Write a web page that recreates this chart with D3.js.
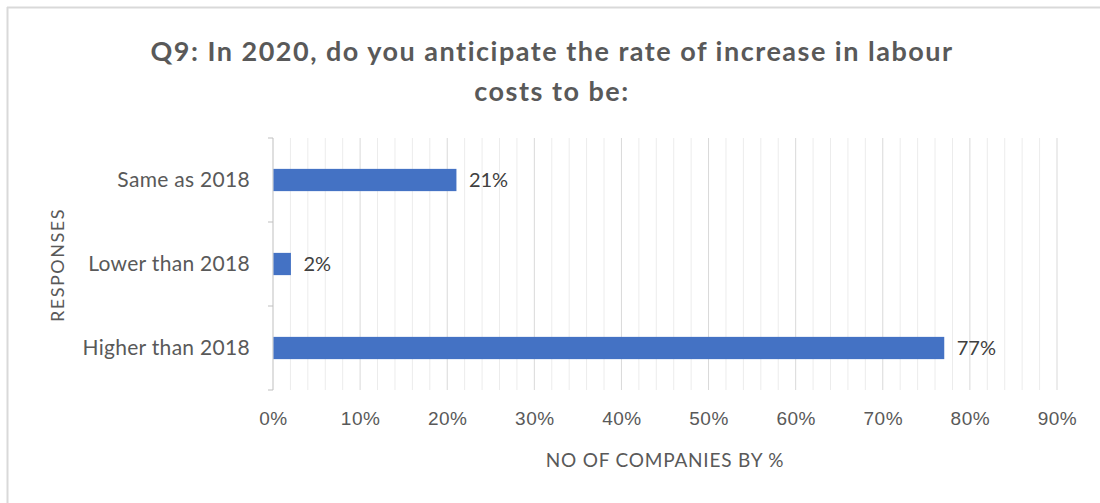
<!DOCTYPE html>
<html>
<head>
<meta charset="utf-8">
<script src="https://cdn.jsdelivr.net/npm/d3@7"></script>
<style>
  html, body { margin: 0; padding: 0; background: #fff; }
  svg { display: block; font-family: Lato, "Open Sans", sans-serif; }
</style>
</head>
<body>
<svg id="chart" width="1100" height="503"></svg>
<script>
// Survey responses (top to bottom as drawn)
const categories = ["Same as 2018", "Lower than 2018", "Higher than 2018"];
const values = [21, 2, 77];
const xTicks = [0, 10, 20, 30, 40, 50, 60, 70, 80, 90];
const titleLines = ["Q9: In 2020, do you anticipate the rate of increase in labour", "costs to be:"];
const xTitle = "NO OF COMPANIES BY %";
const yTitle = "RESPONSES";

const svg = d3.select("#chart");
const W = 1100, H = 503;
const margin = { left: 273, right: 43, top: 138, bottom: 113 };
const textColor = "#595959";

// chart frame (top and left edges)
svg.append("line").attr("x1", 7).attr("x2", W).attr("y1", 7.5).attr("y2", 7.5)
  .attr("stroke", "#d9d9d9").attr("stroke-width", 2);
svg.append("line").attr("x1", 7.5).attr("x2", 7.5).attr("y1", 7).attr("y2", H)
  .attr("stroke", "#d9d9d9").attr("stroke-width", 2);

const x = d3.scaleLinear().domain([0, 90]).range([margin.left, W - margin.right]);
const y = d3.scaleBand().domain(categories).range([margin.top, H - margin.bottom]).paddingInner(0.735).paddingOuter(0.3675);

// minor gridlines every 2%
svg.append("g").selectAll("line").data(d3.range(2, 91, 2).filter(d => d % 10 !== 0)).join("line")
  .attr("x1", d => x(d)).attr("x2", d => x(d))
  .attr("y1", margin.top).attr("y2", H - margin.bottom)
  .attr("stroke", "#ececec").attr("stroke-width", 1);

// major gridlines every 10%
svg.append("g").selectAll("line").data(xTicks.slice(1)).join("line")
  .attr("x1", d => x(d)).attr("x2", d => x(d))
  .attr("y1", margin.top).attr("y2", H - margin.bottom)
  .attr("stroke", "#d9d9d9").attr("stroke-width", 1);

// x axis labels
const xAxis = d3.axisBottom(x).tickValues(xTicks).tickFormat(d => d + "%").tickSize(0).tickPadding(22);
const gx = svg.append("g").attr("transform", `translate(0,${H - margin.bottom})`).call(xAxis);
gx.select(".domain").remove();
gx.selectAll("text").attr("fill", textColor).attr("font-size", 19).attr("letter-spacing", 0.5);

// y axis with category separators
const gy = svg.append("g");
gy.append("line").attr("x1", margin.left).attr("x2", margin.left)
  .attr("y1", margin.top).attr("y2", H - margin.bottom).attr("stroke", "#bfbfbf");
gy.selectAll("line.sep").data(d3.range(categories.length + 1)).join("line").attr("class", "sep")
  .attr("x1", margin.left - 5).attr("x2", margin.left)
  .attr("y1", i => margin.top + i * (H - margin.top - margin.bottom) / categories.length)
  .attr("y2", i => margin.top + i * (H - margin.top - margin.bottom) / categories.length)
  .attr("stroke", "#bfbfbf");
gy.selectAll("text").data(categories).join("text")
  .attr("x", margin.left - 23).attr("y", d => y(d) + y.bandwidth() / 2)
  .attr("dy", "0.35em").attr("text-anchor", "end")
  .attr("fill", textColor).attr("font-size", 21).attr("letter-spacing", 0.3).text(d => d);

// bars
svg.append("g").selectAll("rect").data(values).join("rect")
  .attr("x", x(0) + 0.5).attr("y", (d, i) => y(categories[i]))
  .attr("width", d => x(d) - x(0)).attr("height", y.bandwidth())
  .attr("fill", "#4472c4");

// value labels
svg.append("g").selectAll("text").data(values).join("text")
  .attr("x", d => x(d) + 13).attr("y", (d, i) => y(categories[i]) + y.bandwidth() / 2)
  .attr("dy", "0.35em").attr("fill", "#404040").attr("font-size", 20)
  .text(d => d + "%");

// title
svg.append("g").selectAll("text").data(titleLines).join("text")
  .attr("x", 552).attr("y", (d, i) => 61 + i * 40)
  .attr("text-anchor", "middle").attr("fill", textColor)
  .attr("font-size", 27).attr("font-weight", "bold").attr("letter-spacing", 1.5).text(d => d);

// axis titles
svg.append("text").attr("x", 665).attr("y", 467).attr("text-anchor", "middle")
  .attr("fill", textColor).attr("font-size", 19).attr("letter-spacing", 0.8).text(xTitle);
svg.append("text").attr("transform", `translate(64,265) rotate(-90)`).attr("text-anchor", "middle")
  .attr("fill", textColor).attr("font-size", 18).attr("letter-spacing", 1.5).text(yTitle);
</script>
</body>
</html>
